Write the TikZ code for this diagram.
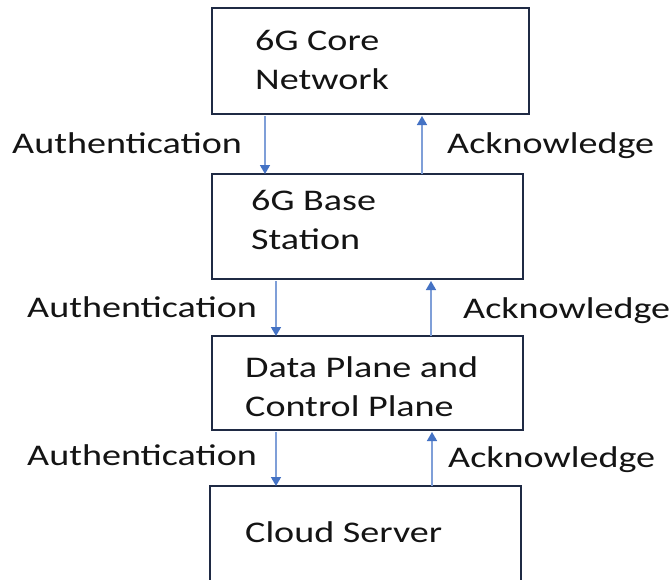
\documentclass[tikz,border=0pt]{standalone}
\usepackage{fontspec}
\setmainfont{Carlito}[FakeStretch=1.27]
\usetikzlibrary{arrows.meta}
\definecolor{boxline}{HTML}{1F2A44}
\definecolor{flowline}{HTML}{7F9FD8}
\definecolor{flowhead}{HTML}{4472C4}
\definecolor{ink}{HTML}{141414}
\tikzset{
  box/.style={draw=boxline, line width=2pt, fill=white, anchor=north west,
    inner sep=0pt, outer sep=0pt},
  boxtext/.style={anchor=base west, inner sep=0pt, text=ink,
    font=\fontsize{30pt}{39pt}\selectfont, align=left},
  flowlabel/.style={anchor=base west, inner sep=0pt, text=ink,
    font=\fontsize{30pt}{36pt}\selectfont},
  flow/.style={draw=flowline, line width=1.5pt,
    -{Triangle[length=9pt,width=10pt,color=flowhead]}},
}
\begin{document}
\begin{tikzpicture}[x=1pt,y=-1pt]
\useasboundingbox (0,0) rectangle (670,579);
\clip (0,0) rectangle (670,579);
\fill[white] (0,0) rectangle (670,579);

% four stacked blocks
\node[box, minimum width=317pt, minimum height=106pt] (core) at (212,8) {};
\node[box, minimum width=311pt, minimum height=105pt] (base) at (212,174) {};
\node[box, minimum width=311pt, minimum height=94pt]  (plane) at (212,336) {};
\node[box, minimum width=311pt, minimum height=125pt] (cloud) at (210,486) {};

% block captions (anchored on the baseline of their last line)
\node[boxtext] (coret) at (255,89) {6G Core\\Network};
\node[boxtext] (baset) at (251,249) {6G Base\\Station};
\node[boxtext] (planet) at (245,416) {Data Plane and\\Control Plane};
\node[boxtext] (cloudt) at (245,542) {Cloud Server};

% downward requests and upward replies
\draw[flow] (core.south -| 265,0) ++(0,2) -- (base.north -| 265,0);
\draw[flow] (base.north -| 422,0) -- ([yshift=-2pt]core.south -| 422,0);
\draw[flow] (base.south -| 276,0) ++(0,2) -- (plane.north -| 276,0);
\draw[flow] (plane.north -| 431,0) -- ([yshift=-2pt]base.south -| 431,0);
\draw[flow] (plane.south -| 276,0) ++(0,2) -- (cloud.north -| 276,0);
\draw[flow] (cloud.north -| 432,0) -- ([yshift=-2pt]plane.south -| 432,0);

% arrow labels
\node[flowlabel] (auth1) at (12,153) {Authentication};
\node[flowlabel] (ack1)  at (447,153) {Acknowledge};
\node[flowlabel] (auth2) at (27,317) {Authentication};
\node[flowlabel] (ack2)  at (463,318) {Acknowledge};
\node[flowlabel] (auth3) at (27,465) {Authentication};
\node[flowlabel] (ack3)  at (448,467) {Acknowledge};
\end{tikzpicture}
\end{document}
